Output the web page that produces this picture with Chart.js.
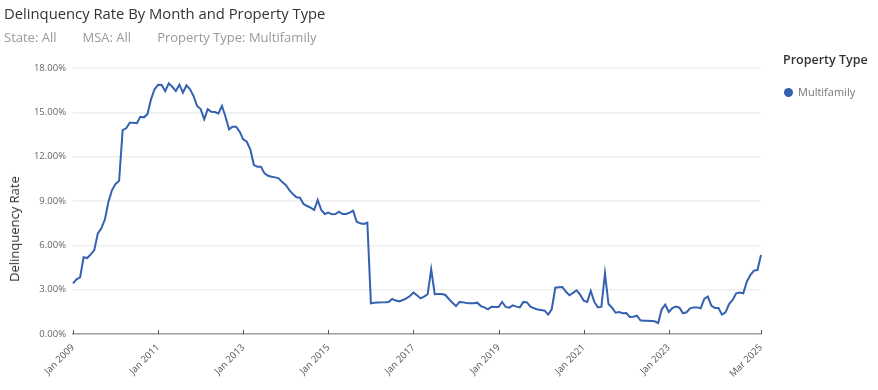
<!DOCTYPE html>
<html>
<head>
<meta charset="utf-8">
<script src="https://cdn.jsdelivr.net/npm/chart.js@4.4.1/dist/chart.umd.min.js"></script>
<style>
  html, body { margin: 0; padding: 0; background: #fff; }
  body { width: 878px; height: 390px; position: relative; overflow: hidden; font-family: "Open Sans", sans-serif; }
  #title { position: absolute; left: 4px; top: 5px; font-size: 14.8px; line-height: 16px; color: #333; white-space: nowrap; }
  #subtitle { position: absolute; left: 4px; top: 30px; font-size: 13px; line-height: 14px; color: #999; white-space: nowrap; }
  #subtitle span { margin-right: 26px; }
  #ytitle { position: absolute; left: 14px; top: 229px; transform: translate(-50%, -50%) rotate(-90deg); font-size: 13px; color: #333; white-space: nowrap; }
  #legend-title { position: absolute; left: 783px; top: 51px; font-size: 12.5px; font-weight: 600; color: #333; white-space: nowrap; }
  #legend-item { position: absolute; left: 784px; top: 84px; font-size: 11px; color: #777; white-space: nowrap; }
  #legend-item i { display: inline-block; width: 9px; height: 9px; border-radius: 50%; background: #3461b0; margin-right: 5px; vertical-align: -1px; }
  #wrap { position: absolute; left: 0; top: 0; width: 878px; height: 390px; }
</style>
</head>
<body>
<div id="wrap"><canvas id="rateChart"></canvas></div>
<div id="title">Delinquency Rate By Month and Property Type</div>
<div id="subtitle"><span>State: All</span><span>MSA: All</span>Property Type: Multifamily</div>
<div id="ytitle">Delinquency Rate</div>
<div id="legend-title">Property Type</div>
<div id="legend-item"><i></i>Multifamily</div>
<script>
// Bulan-bulan dari Jan 2009 sampai Mar 2025
const monthNames = ['Jan', 'Feb', 'Mar', 'Apr', 'May', 'Jun', 'Jul', 'Aug', 'Sep', 'Oct', 'Nov', 'Dec'];
const firstYear = 2009;
const lastYear = 2025;
const lastMonthIndex = 2; // Mar

const months = [];
for (let y = firstYear; y <= lastYear; y++) {
    for (let m = 0; m < 12; m++) {
        if (y === lastYear && m > lastMonthIndex) break;
        months.push(monthNames[m] + ' ' + y);
    }
}

// Label sumbu x yang ditampilkan
const shownTicks = ['Jan 2009', 'Jan 2011', 'Jan 2013', 'Jan 2015', 'Jan 2017', 'Jan 2019', 'Jan 2021', 'Jan 2023', 'Mar 2025'];
const yTicks = [0, 3, 6, 9, 12, 15, 18];

// Tingkat tunggakan Multifamily (%)
const multifamily = [
    3.43, 3.70, 3.84, 5.19, 5.14, 5.39, 5.68, 6.81, 7.15, 7.76, 8.95, 9.74,
    10.15, 10.37, 13.80, 13.92, 14.30, 14.30, 14.26, 14.70, 14.66, 14.88, 15.88, 16.56,
    16.87, 16.85, 16.44, 16.96, 16.73, 16.44, 16.87, 16.33, 16.83, 16.56, 16.10, 15.43,
    15.22, 14.53, 15.22, 15.04, 15.02, 14.93, 15.43, 14.70, 13.85, 14.03, 14.03, 13.69,
    13.17, 13.01, 12.50, 11.43, 11.32, 11.32, 10.87, 10.71, 10.64, 10.60, 10.53, 10.28,
    10.08, 9.74, 9.47, 9.25, 9.22, 8.80, 8.66, 8.55, 8.39, 9.07, 8.39, 8.12,
    8.21, 8.10, 8.12, 8.28, 8.12, 8.12, 8.21, 8.34, 7.60, 7.49, 7.44, 7.53,
    2.08, 2.12, 2.13, 2.14, 2.15, 2.17, 2.37, 2.26, 2.21, 2.30, 2.41, 2.57,
    2.80, 2.62, 2.41, 2.53, 2.69, 4.38, 2.69, 2.71, 2.71, 2.64, 2.37, 2.12,
    1.89, 2.17, 2.14, 2.10, 2.08, 2.08, 2.12, 1.89, 1.80, 1.67, 1.85, 1.83,
    1.83, 2.17, 1.83, 1.78, 1.94, 1.85, 1.80, 2.17, 2.14, 1.85, 1.74, 1.65,
    1.62, 1.58, 1.31, 1.69, 3.13, 3.16, 3.18, 2.86, 2.62, 2.78, 2.96, 2.66,
    2.26, 2.17, 2.91, 2.17, 1.80, 1.85, 4.11, 2.03, 1.78, 1.44, 1.49, 1.40,
    1.42, 1.15, 1.17, 1.24, 0.93, 0.90, 0.90, 0.88, 0.86, 0.74, 1.67, 1.98,
    1.49, 1.76, 1.85, 1.78, 1.40, 1.47, 1.74, 1.80, 1.80, 1.74, 2.37, 2.53,
    1.92, 1.76, 1.76, 1.31, 1.47, 2.03, 2.30, 2.75, 2.80, 2.75, 3.54, 3.99,
    4.29, 4.33, 5.35
];

const lineColor = '#3461b0';

// Tanda tick kecil di atas garis sumbu x (hanya untuk label yang tampil)
const upTicks = {
    id: 'upTicks',
    afterDatasetsDraw(chart) {
        const xs = chart.scales.x;
        const ctx = chart.ctx;
        const bottom = chart.chartArea.bottom;
        ctx.save();
        ctx.strokeStyle = '#555';
        ctx.lineWidth = 1;
        shownTicks.forEach(lab => {
            const i = months.indexOf(lab);
            const px = Math.round(xs.getPixelForValue(i)) + 0.5;
            ctx.beginPath();
            ctx.moveTo(px, bottom - 4);
            ctx.lineTo(px, bottom);
            ctx.stroke();
        });
        ctx.restore();
    }
};

const ctx = document.getElementById('rateChart').getContext('2d');
const chart = new Chart(ctx, {
    type: 'line',
    data: {
        labels: months,
        datasets: [{
            label: 'Multifamily',
            data: multifamily,
            borderColor: lineColor,
            backgroundColor: lineColor,
            borderWidth: 2,
            pointRadius: 0,
            tension: 0,
            fill: false
        }]
    },
    options: {
        responsive: true,
        maintainAspectRatio: false,
        animation: false,
        layout: { padding: { top: 68, left: 0, right: 117, bottom: 6 } },
        plugins: {
            legend: { display: false },
            tooltip: { enabled: false }
        },
        scales: {
            x: {
                type: 'category',
                offset: false,
                grid: { display: false },
                border: { display: true, color: '#a0a0a0', width: 1.5 },
                ticks: {
                    autoSkip: false,
                    minRotation: 45,
                    maxRotation: 45,
                    padding: 0,
                    color: '#555',
                    font: { family: 'Open Sans', size: 9.5 },
                    callback: function (value) {
                        const lab = this.getLabelForValue(value);
                        return shownTicks.includes(lab) ? lab : null;
                    }
                },
                afterFit: s => { s.height = 50; }
            },
            y: {
                min: 0,
                max: 18,
                afterBuildTicks: s => { s.ticks = yTicks.map(v => ({ value: v })); },
                grid: { color: '#eeeeee', lineWidth: 1.5, drawTicks: false },
                border: { display: false },
                ticks: {
                    padding: 7,
                    color: '#666',
                    font: { family: 'Open Sans', size: 9.5 },
                    callback: v => v.toFixed(2) + '%'
                },
                afterFit: s => { s.width = 73; }
            }
        }
    },
    plugins: [upTicks]
});
</script>
</body>
</html>
